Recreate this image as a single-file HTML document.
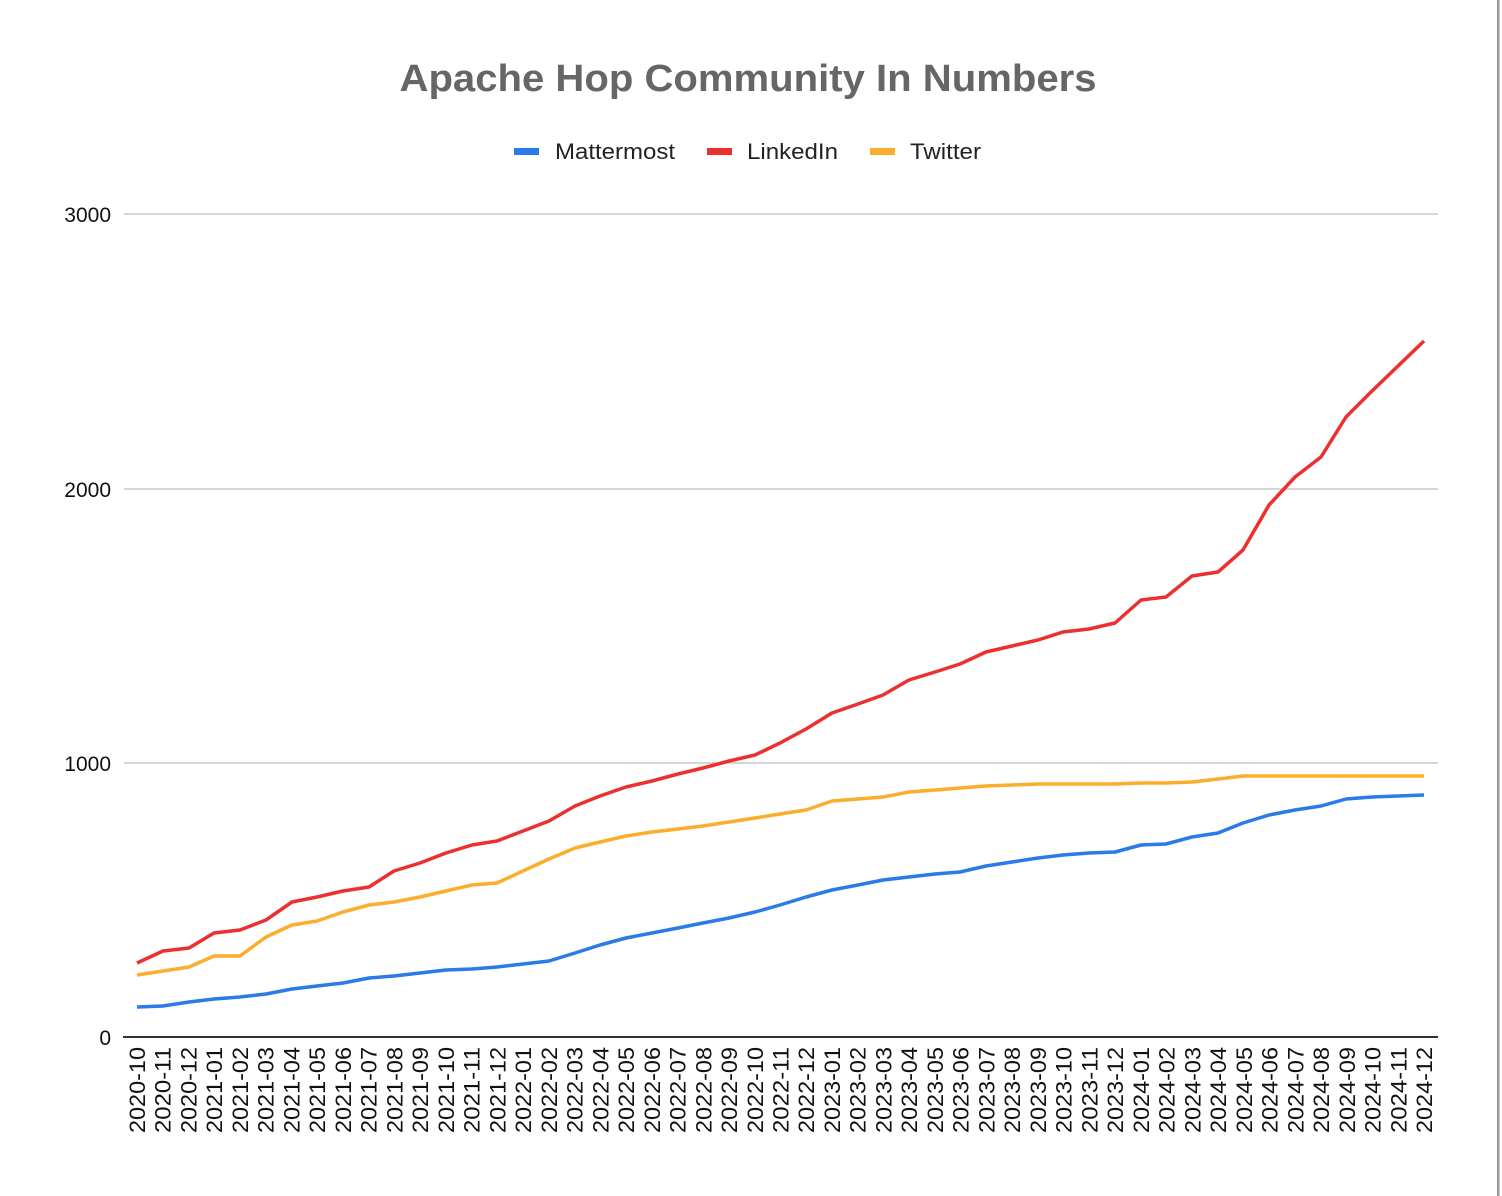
<!DOCTYPE html>
<html><head><meta charset="utf-8"><style>
html,body{margin:0;padding:0;background:#fff;}
svg{display:block;font-family:"Liberation Sans",Arial,sans-serif;}
</style></head><body>
<svg width="1502" height="1196" viewBox="0 0 1502 1196" xmlns="http://www.w3.org/2000/svg">
<rect width="1502" height="1196" fill="#fff"/>
<text x="748" y="91" text-anchor="middle" font-size="38" font-weight="bold" fill="#666" textLength="697" lengthAdjust="spacingAndGlyphs">Apache Hop Community In Numbers</text>
<rect x="514" y="148" width="25" height="7" fill="#2a7be8"/>
<text x="555" y="159" font-size="22" fill="#222" textLength="120" lengthAdjust="spacingAndGlyphs">Mattermost</text>
<rect x="707" y="148" width="25" height="7" fill="#ec3030"/>
<text x="747" y="159" font-size="22" fill="#222" textLength="91" lengthAdjust="spacingAndGlyphs">LinkedIn</text>
<rect x="870" y="148" width="25" height="7" fill="#fbae2b"/>
<text x="910" y="159" font-size="22" fill="#222" textLength="71" lengthAdjust="spacingAndGlyphs">Twitter</text>
<g stroke="#c8c8c8" stroke-width="1.5">
<line x1="124" y1="214" x2="1438" y2="214"/>
<line x1="124" y1="489" x2="1438" y2="489"/>
<line x1="124" y1="763" x2="1438" y2="763"/>
</g>
<g font-size="21" fill="#111" text-anchor="end">
<text x="111" y="222">3000</text>
<text x="111" y="497">2000</text>
<text x="111" y="771">1000</text>
<text x="111" y="1045">0</text>
</g>
<line x1="123" y1="1037" x2="1438" y2="1037" stroke="#333" stroke-width="2"/>
<rect x="1497" y="0" width="2.5" height="1196" fill="#999"/>
<g fill="none" stroke-width="3.5" stroke-linejoin="round">
<polyline stroke="#fbae2b" points="137,975 163,971 189,967 214,956 240,956 266,937 292,925 317,921 343,912 369,905 394,902 420,897 446,891 472,885 497,883 523,871 549,859 575,848 600,842 626,836 652,832 678,829 703,826 729,822 755,818 780,814 806,810 832,801 858,799 883,797 909,792 935,790 960,788 986,786 1012,785 1038,784 1063,784 1089,784 1115,784 1141,783 1166,783 1192,782 1218,779 1243,776 1269,776 1295,776 1321,776 1346,776 1372,776 1398,776 1424,776"/>
<polyline stroke="#ec3030" points="137,963 163,951 189,948 214,933 240,930 266,920 292,902 317,897 343,891 369,887 394,871 420,863 446,853 472,845 497,841 523,831 549,821 575,806 600,796 626,787 652,781 678,774 703,768 729,761 755,755 780,743 806,729 832,713 858,704 883,695 909,680 935,672 960,664 986,652 1012,646 1038,640 1063,632 1089,629 1115,623 1141,600 1166,597 1192,576 1218,572 1243,550 1269,505 1295,477 1321,457 1346,417 1372,391 1398,366 1424,341"/>
<polyline stroke="#2a7be8" points="137,1007 163,1006 189,1002 214,999 240,997 266,994 292,989 317,986 343,983 369,978 394,976 420,973 446,970 472,969 497,967 523,964 549,961 575,953 600,945 626,938 652,933 678,928 703,923 729,918 755,912 780,905 806,897 832,890 858,885 883,880 909,877 935,874 960,872 986,866 1012,862 1038,858 1063,855 1089,853 1115,852 1141,845 1166,844 1192,837 1218,833 1243,823 1269,815 1295,810 1321,806 1346,799 1372,797 1398,796 1424,795"/>
</g>
<g font-size="22" fill="#111" text-anchor="end" id="xl"></g>
</svg>
<script>
var g=document.getElementById('xl'),i=0;
for(var y=2020,m=10;;){
 var x=137+i*25.74+8;
 var t=document.createElementNS('http://www.w3.org/2000/svg','text');
 t.setAttribute('transform','translate('+x.toFixed(1)+',1047) rotate(-90)');
 t.setAttribute('x','0');t.setAttribute('y','0');
 t.setAttribute('textLength','86');t.setAttribute('lengthAdjust','spacingAndGlyphs');
 t.textContent=y+'-'+(m<10?'0'+m:m);
 g.appendChild(t);
 i++; if(y==2024&&m==12)break; m++; if(m>12){m=1;y++;}
}
</script>
</body></html>
